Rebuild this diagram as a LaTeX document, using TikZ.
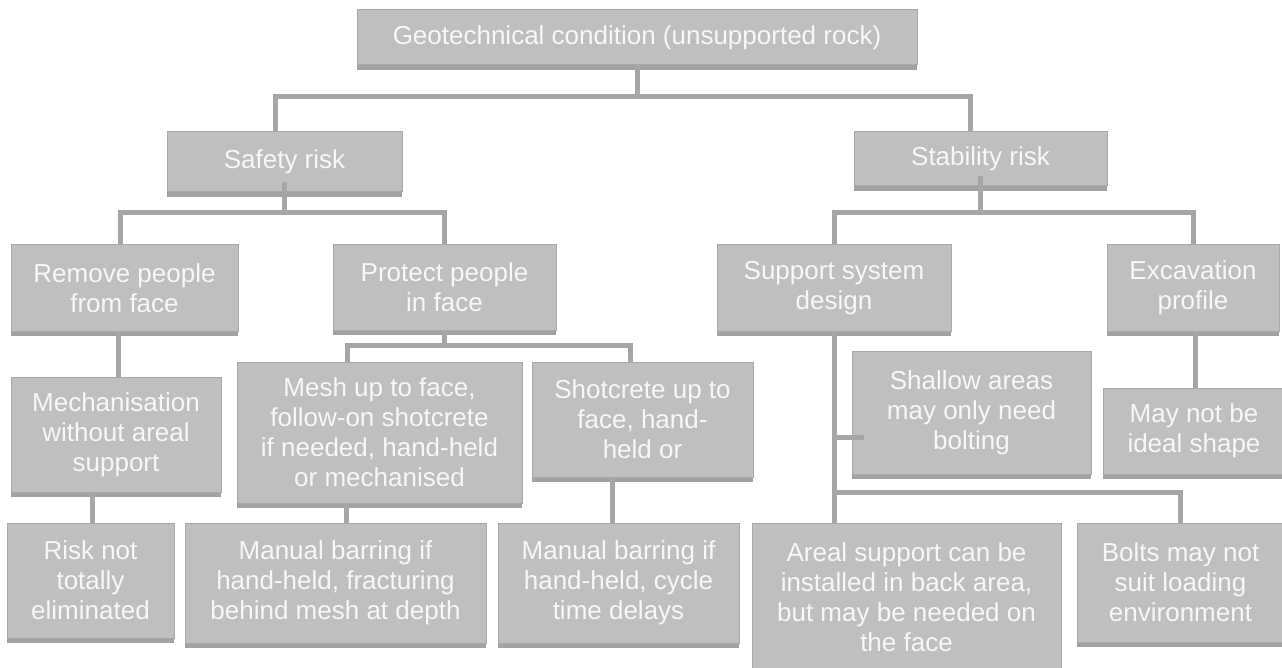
\documentclass[tikz,border=0pt]{standalone}
\usepackage{fontspec}
\setmainfont{Liberation Sans}
\usetikzlibrary{shadows}
\definecolor{boxfill}{HTML}{BFBFBF}
\definecolor{boxline}{HTML}{A8A8A8}
\definecolor{boxshade}{HTML}{A2A2A2}
\definecolor{conncol}{HTML}{A6A6A6}
\definecolor{txtcol}{HTML}{F7F7F7}
\tikzset{
  box/.style={draw=boxline, line width=1pt, fill=boxfill, text=txtcol, align=center,
    inner sep=0pt, font=\fontsize{26}{30}\selectfont,
    drop shadow={shadow xshift=0pt, shadow yshift=-5pt, fill=boxshade, opacity=1}},
  link/.style={draw=conncol, line width=5pt, line join=miter},
}
\begin{document}
\begin{tikzpicture}[x=1pt, y=-1pt]
\fill[white] (0,0) rectangle (1282,668);
\useasboundingbox (0,0) rectangle (1282,668);

\node[box, minimum width=560pt, minimum height=55pt] (geo) at (637,37.5) {Geotechnical condition (unsupported rock)};
\node[box, minimum width=235pt, minimum height=60pt] (safety) at (284.5,162) {Safety risk};
\node[box, minimum width=253pt, minimum height=54pt] (stability) at (980.5,159) {Stability risk};
\node[box, minimum width=227pt, minimum height=86pt] (remove) at (124.5,288) {Remove people\\from face};
\node[box, minimum width=223pt, minimum height=85pt] (protect) at (444.5,287.5) {Protect people\\in face};
\node[box, minimum width=234pt, minimum height=86pt] (support) at (834,288) {Support system\\design};
\node[box, minimum width=172pt, minimum height=86pt] (excav) at (1193,288) {Excavation\\profile};
\node[box, minimum width=210pt, minimum height=115pt] (mech) at (116,434.5) {Mechanisation\\without areal\\support};
\node[box, minimum width=285pt, minimum height=141pt] (mesh) at (379.5,432.5) {Mesh up to face,\\follow-on shotcrete\\if needed, hand-held\\or mechanised};
\node[box, minimum width=221pt, minimum height=115pt] (shot) at (642.5,419.5) {Shotcrete up to\\face, hand-\\held or};
\node[box, minimum width=239pt, minimum height=123pt] (shallow) at (971.5,412.5) {Shallow areas\\may only need\\bolting};
\node[box, minimum width=182pt, minimum height=86pt] (maynot) at (1194,431) {May not be\\ideal shape};
\node[box, minimum width=167pt, minimum height=115pt] (risk) at (90.5,580.5) {Risk not\\totally\\eliminated};
\node[box, minimum width=301pt, minimum height=120pt] (man1) at (335.5,583) {Manual barring if\\hand-held, fracturing\\behind mesh at depth};
\node[box, minimum width=241pt, minimum height=120pt] (man2) at (618.5,583) {Manual barring if\\hand-held, cycle\\time delays};
\node[box, minimum width=309pt, minimum height=149pt] (areal) at (906.5,597.5) {Areal support can be\\installed in back area,\\but may be needed on\\the face};
\node[box, minimum width=207pt, minimum height=119pt] (bolts) at (1180.5,582.5) {Bolts may not\\suit loading\\environment};

\coordinate (bar1) at (0,97);
\coordinate (bar2) at (0,213);
\coordinate (bar3) at (0,345);
\coordinate (bar4) at (0,492);

\draw[link] (geo.south) -- (geo.south |- bar1) -| ([xshift=-9.5pt]safety.north);
\draw[link] (geo.south |- bar1) -| ([xshift=-10.5pt]stability.north);

\draw[link] ([yshift=10pt]safety.south) -- (safety.south |- bar2) -| ([xshift=-4.5pt]remove.north);
\draw[link] (safety.south |- bar2) -| (protect.north);

\draw[link] ([yshift=10pt]stability.south) -- (stability.south |- bar2) -| (support.north);
\draw[link] (stability.south |- bar2) -| (excav.north);

\draw[link] ([xshift=2pt]mech.north) -- ([xshift=2pt]mech.north |- remove.south);
\draw[link] ([xshift=1.5pt]risk.north) -- ([xshift=1.5pt]risk.north |- mech.south);

\draw[link] (protect.south) -- (protect.south |- bar3) -| ([xshift=-32.5pt]mesh.north);
\draw[link] (protect.south |- bar3) -| ([xshift=-12.5pt]shot.north);

\draw[link] ([xshift=10.5pt]man1.north) -- ([xshift=10.5pt]man1.north |- mesh.south);
\draw[link] ([xshift=-6.5pt]man2.north) -- ([xshift=-6.5pt]man2.north |- shot.south);

\draw[link] (support.south) -- (support.south |- areal.north);
\coordinate (stub) at ([xshift=12pt,yshift=-24.5pt]shallow.west);
\draw[link] (support.south |- stub) -- (stub);
\draw[link] (support.south |- bar4) -| (bolts.north);

\draw[link] ([xshift=2pt]excav.south) -- ([xshift=2pt]excav.south |- maynot.north);
\end{tikzpicture}
\end{document}
